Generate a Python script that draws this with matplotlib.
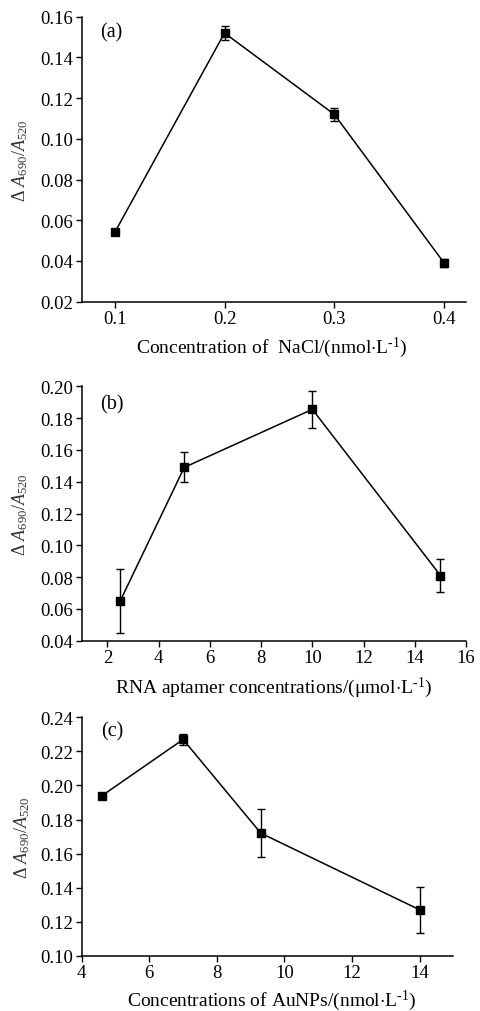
import matplotlib
matplotlib.use("Agg")
import matplotlib.pyplot as plt

plt.rcParams["font.family"] = ["Liberation Serif", "DejaVu Serif"]
plt.rcParams["mathtext.fontset"] = "custom"
plt.rcParams["mathtext.rm"] = "Liberation Serif"
plt.rcParams["mathtext.it"] = "Liberation Serif:italic"

# (a) NaCl
nacl_x = [0.1, 0.2, 0.3, 0.4]
nacl_y = [0.054, 0.152, 0.112, 0.039]
nacl_err = [0.0008, 0.0035, 0.003, 0.002]

# (b) RNA aptamer
apt_x = [2.5, 5, 10, 15]
apt_y = [0.065, 0.149, 0.1855, 0.081]
apt_err = [0.020, 0.0095, 0.0115, 0.0105]

# (c) AuNPs
au_x = [4.6, 7, 9.3, 14]
au_y = [0.194, 0.227, 0.172, 0.127]
au_err = [0.001, 0.003, 0.014, 0.0135]

ylab = r"$\Delta\ A_{690}/A_{520}$"
unit = r"$\cdot$L$^{\text{-1}}$)"

fig = plt.figure(figsize=(4.81, 10.12), dpi=100)

panels = [
    dict(rect=[0.170, 0.7009, 0.799, 0.2816], x=nacl_x, y=nacl_y, e=nacl_err,
         xlim=(0.070, 0.42), ylim=(0.02, 0.16), xt=[0.1, 0.2, 0.3, 0.4],
         yt=[0.02, 0.04, 0.06, 0.08, 0.10, 0.12, 0.14, 0.16], xfmt="%.1f",
         lab="(a)", labpos=(0.048, 0.946),
         xl="Concentration of  NaCl/(nmol" + unit, xlpos=(0.495, -0.159)),
    dict(rect=[0.170, 0.3659, 0.799, 0.2514], x=apt_x, y=apt_y, e=apt_err,
         xlim=(1.0, 16), ylim=(0.04, 0.20), xt=[2, 4, 6, 8, 10, 12, 14, 16],
         yt=[0.04, 0.06, 0.08, 0.10, 0.12, 0.14, 0.16, 0.18, 0.20], xfmt="%d",
         lab="(b)", labpos=(0.048, 0.930),
         xl="RNA aptamer concentrations/(μmol" + unit, xlpos=(0.50, -0.182)),
    dict(rect=[0.170, 0.0546, 0.7725, 0.2356], x=au_x, y=au_y, e=au_err,
         xlim=(4, 15), ylim=(0.10, 0.24), xt=[4, 6, 8, 10, 12, 14],
         yt=[0.10, 0.12, 0.14, 0.16, 0.18, 0.20, 0.22, 0.24], xfmt="%d",
         lab="(c)", labpos=(0.052, 0.944),
         xl="Concentrations of AuNPs/(nmol" + unit, xlpos=(0.51, -0.184)),
]

for p in panels:
    ax = fig.add_axes(p["rect"])
    ax.errorbar(p["x"], p["y"], yerr=p["e"], color="black", lw=1.1,
                marker="s", markersize=5.5, capsize=3, elinewidth=1.0,
                capthick=1.0, clip_on=False)
    ax.set_xlim(*p["xlim"])
    ax.set_ylim(*p["ylim"])
    ax.set_xticks(p["xt"])
    ax.set_xticklabels([p["xfmt"] % v for v in p["xt"]])
    ax.set_yticks(p["yt"])
    ax.set_yticklabels(["%.2f" % v for v in p["yt"]])
    ax.spines["top"].set_visible(False)
    ax.spines["right"].set_visible(False)
    ax.spines["left"].set_linewidth(1.1)
    ax.spines["bottom"].set_linewidth(1.1)
    ax.tick_params(direction="out", length=4, width=1.0, labelsize=13.5, pad=2)
    ax.set_xlabel(p["xl"], fontsize=14, va="center")
    ax.xaxis.set_label_coords(*p["xlpos"])
    ax.set_ylabel(ylab, fontsize=13, color="#3a3232", va="center")
    ax.yaxis.set_label_coords(-0.16, 0.5)
    ax.text(p["labpos"][0], p["labpos"][1], p["lab"], transform=ax.transAxes,
            fontsize=14.5, ha="left", va="center")

fig.savefig("out.png", dpi=100)
